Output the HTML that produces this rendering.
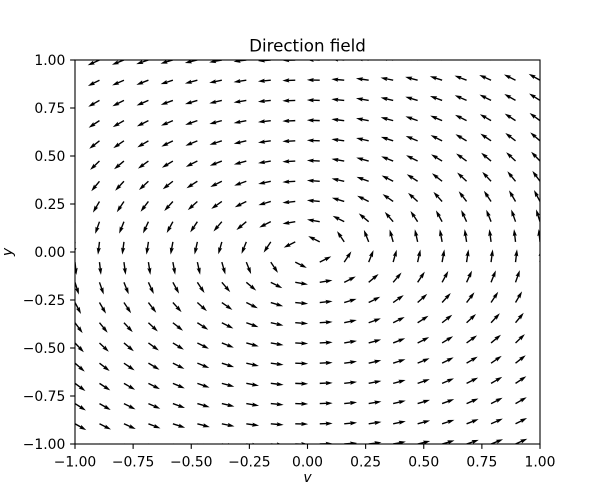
<!DOCTYPE html>
<html><head><meta charset="utf-8"><style>
html,body{margin:0;padding:0;background:#fff;}
svg{display:block;font-family:"DejaVu Sans","Liberation Sans",sans-serif;}
</style></head><body>
<svg id="s" width="600" height="500" viewBox="0 0 600 500" xmlns="http://www.w3.org/2000/svg">
<rect width="600" height="500" fill="#fff"/>
<defs><clipPath id="c"><rect x="75" y="60" width="465" height="384"/></clipPath></defs>
<g id="arrows" clip-path="url(#c)" fill="#000"></g>
<rect x="75" y="60" width="465" height="384" fill="none" stroke="#000" stroke-width="1.1"/>
<g stroke="#000" stroke-width="1.1">
<line x1="75" y1="444" x2="75" y2="448.9"/>
<line x1="133.125" y1="444" x2="133.125" y2="448.9"/>
<line x1="191.25" y1="444" x2="191.25" y2="448.9"/>
<line x1="249.375" y1="444" x2="249.375" y2="448.9"/>
<line x1="307.5" y1="444" x2="307.5" y2="448.9"/>
<line x1="365.625" y1="444" x2="365.625" y2="448.9"/>
<line x1="423.75" y1="444" x2="423.75" y2="448.9"/>
<line x1="481.875" y1="444" x2="481.875" y2="448.9"/>
<line x1="540" y1="444" x2="540" y2="448.9"/>
<line x1="70.1" y1="444" x2="75" y2="444"/>
<line x1="70.1" y1="396" x2="75" y2="396"/>
<line x1="70.1" y1="348" x2="75" y2="348"/>
<line x1="70.1" y1="300" x2="75" y2="300"/>
<line x1="70.1" y1="252" x2="75" y2="252"/>
<line x1="70.1" y1="204" x2="75" y2="204"/>
<line x1="70.1" y1="156" x2="75" y2="156"/>
<line x1="70.1" y1="108" x2="75" y2="108"/>
<line x1="70.1" y1="60" x2="75" y2="60"/>
</g>
<g font-size="13.9" fill="#000" text-anchor="middle">
<text x="75" y="466.5">−1.00</text>
<text x="133.125" y="466.5">−0.75</text>
<text x="191.25" y="466.5">−0.50</text>
<text x="249.375" y="466.5">−0.25</text>
<text x="307.5" y="466.5">0.00</text>
<text x="365.625" y="466.5">0.25</text>
<text x="423.75" y="466.5">0.50</text>
<text x="481.875" y="466.5">0.75</text>
<text x="540" y="466.5">1.00</text>
</g>
<g font-size="13.9" fill="#000" text-anchor="end">
<text x="65.3" y="449">−1.00</text>
<text x="65.3" y="401">−0.75</text>
<text x="65.3" y="353">−0.50</text>
<text x="65.3" y="305">−0.25</text>
<text x="65.3" y="257">0.00</text>
<text x="65.3" y="209">0.25</text>
<text x="65.3" y="161">0.50</text>
<text x="65.3" y="113">0.75</text>
<text x="65.3" y="65">1.00</text>
</g>
<text x="307.5" y="51.7" font-size="16.7" text-anchor="middle" fill="#000">Direction field</text>
<text x="307.5" y="482" font-size="13.9" font-style="italic" text-anchor="middle" fill="#000">v</text>
<text x="0" y="0" font-size="13.9" font-style="italic" text-anchor="middle" fill="#000" transform="translate(12,252) rotate(-90)">y</text>
</svg>
<script>
(function(){
  var g=document.getElementById('arrows');
  var X0=75,Y1=444,W=465,H=384,N=20;
  var w=1.395, L=12.9;
  var Lu=L/w;
  var base=[[0,0.5],[Lu-4.5,0.5],[Lu-5,1.5],[Lu,0],[Lu-5,-1.5],[Lu-4.5,-0.5],[0,-0.5]];
  var html='';
  for(var i=0;i<N;i++){
    var v=-1+2*i/(N-1);
    var px=X0+(v+1)/2*W;
    for(var j=0;j<N;j++){
      var y=-1+2*j/(N-1);
      var py=Y1-(y+1)/2*H;
      var U=-2*y, V=v;
      var a=Math.atan2(-V,U);
      var c=Math.cos(a), s=Math.sin(a);
      var pts=[];
      for(var k=0;k<base.length;k++){
        var bx=base[k][0]*w, by=base[k][1]*w;
        pts.push((px+bx*c-by*s).toFixed(2)+','+(py+bx*s+by*c).toFixed(2));
      }
      html+='<polygon points="'+pts.join(' ')+'"/>';
    }
  }
  g.innerHTML=html;
})();
</script>
</body></html>
